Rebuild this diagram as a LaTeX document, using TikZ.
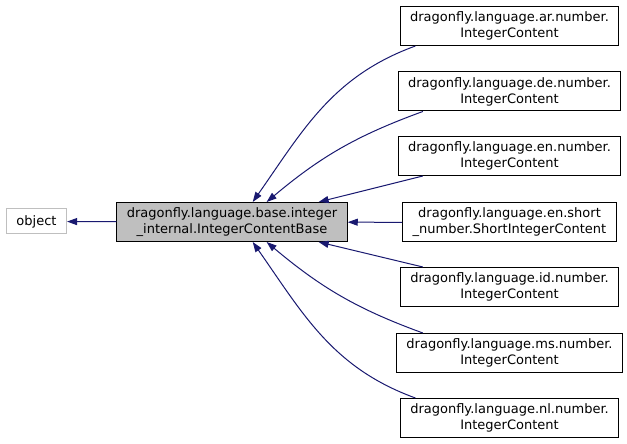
\documentclass[tikz,border=0pt]{standalone}
\usepackage{fontspec}
\setmainfont{DejaVu Sans}
\usetikzlibrary{
	arrows.meta,
	positioning,
	calc
}
\definecolor{edgeblue}{HTML}{191970}
\definecolor{fillgray}{HTML}{BFBFBF}

\begin{document}
\begin{tikzpicture}[
		x=1bp, y=1bp,
		cls/.style={draw, rectangle, line width=1bp, align=center, inner xsep=10bp, inner ysep=0pt, minimum height=39bp, font=\fontsize{13bp}{16bp}\selectfont},
		ext/.style={cls, draw=fillgray, minimum height=25bp},
		basebox/.style={cls, fill=fillgray},
		derive/.style={{Triangle[length=10bp,width=7bp]}-, line width=1bp, color=edgeblue}
		]
		\useasboundingbox (0,0) rectangle (627,444);
		
		% --- Left side ---
		\node[ext] (object) at (36.5,222.5) {object};
		
		\node[basebox] (base) at (232,222)
		{dragonfly.language.base.integer \\ \_internal.IntegerContentBase};
		
		% --- Derived classes ---
		\node[cls] (ar) at (509.5,418)
		{dragonfly.language.ar.number. \\ IntegerContent};
		
		\node[cls] (de) at (509.5,352.5)
		{dragonfly.language.de.number. \\ IntegerContent};
		
		\node[cls] (en) at (509.5,288)
		{dragonfly.language.en.number. \\ IntegerContent};
		
		\node[cls] (short) at (509.5,221.5)
		{dragonfly.language.en.short \\ \_number.ShortIntegerContent};
		
		\node[cls] (id) at (509.5,157)
		{dragonfly.language.id.number. \\ IntegerContent};
		
		\node[cls] (ms) at (509.5,91)
		{dragonfly.language.ms.number. \\ IntegerContent};
		
		\node[cls] (nl) at (509.5,26)
		{dragonfly.language.nl.number. \\ IntegerContent};
		
		% --- Arrows ---
		\draw[derive] (object) -- (base);
		
		\draw[derive] (base.44) to[out=55, in=200] (ar.192);
		\draw[derive] (base.30) to[out=40, in=200] (de.193);
		\draw[derive] (base.13) -- (en.193);
		\draw[derive] (base) -- (short);
		\draw[derive] (base.-13) -- (id.167);
		\draw[derive] (base.-30) to[out=-40, in=160] (ms.167);
		\draw[derive] (base.-44) to[out=-55, in=160] (nl.168);
		
	\end{tikzpicture}
\end{document}
